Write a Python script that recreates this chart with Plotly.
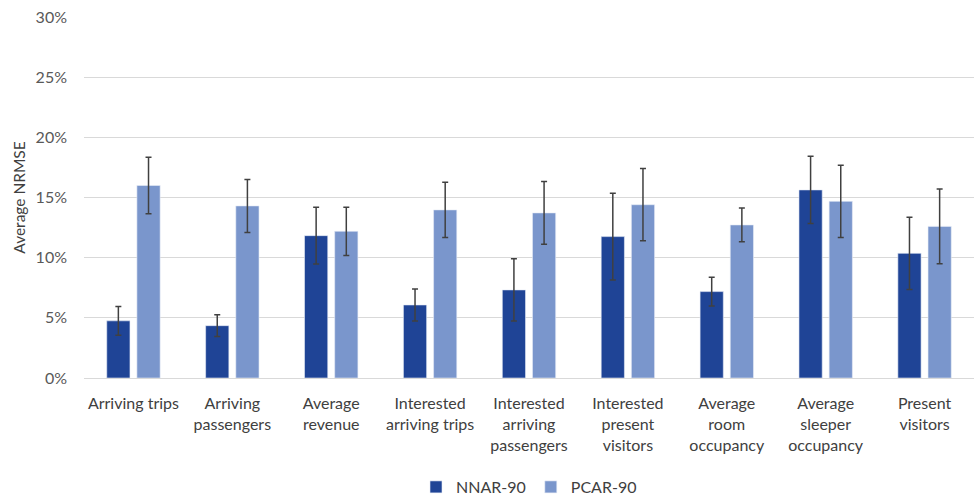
import plotly.graph_objects as go

categories = [
    "Arriving trips",
    "Arriving<br>passengers",
    "Average<br>revenue",
    "Interested<br>arriving trips",
    "Interested<br>arriving<br>passengers",
    "Interested<br>present<br>visitors",
    "Average<br>room<br>occupancy",
    "Average<br>sleeper<br>occupancy",
    "Present<br>visitors",
]

# Average NRMSE (%) and error half-widths (%)
nnar_90 = [4.75, 4.35, 11.83, 6.07, 7.32, 11.75, 7.18, 15.63, 10.36]
nnar_90_err = [1.2, 0.9, 2.35, 1.33, 2.58, 3.6, 1.2, 2.8, 3.0]
pcar_90 = [16.0, 14.3, 12.19, 13.97, 13.72, 14.4, 12.72, 14.68, 12.6]
pcar_90_err = [2.35, 2.2, 2.0, 2.3, 2.6, 3.0, 1.4, 3.0, 3.1]

tick_vals = [0, 5, 10, 15, 20, 25, 30]
tick_text = ["0%", "5%", "10%", "15%", "20%", "25%", "30%"]

err_style = dict(type="data", visible=True, color="#404040", thickness=1.5, width=3)

fig = go.Figure()
fig.add_trace(go.Bar(
    name="NNAR-90", x=categories, y=nnar_90,
    marker=dict(color="#1F4496", line=dict(color="#E8ECF6", width=0.6)),
    error_y=dict(array=nnar_90_err, **err_style),
))
fig.add_trace(go.Bar(
    name="PCAR-90", x=categories, y=pcar_90,
    marker=dict(color="#7A96CC", line=dict(color="#E8ECF6", width=0.6)),
    error_y=dict(array=pcar_90_err, **err_style),
))

font_family = "Lato, Open Sans, sans-serif"
fig.update_layout(
    width=976, height=504,
    margin=dict(l=84, r=2, t=17, b=126, autoexpand=False),
    paper_bgcolor="white", plot_bgcolor="white",
    barmode="group", bargap=0.39, bargroupgap=0.23,
    font=dict(family=font_family, size=16, color="#404040"),
    showlegend=True,
    legend=dict(orientation="h", x=0.5, xanchor="center",
                yref="container", y=-0.008, yanchor="bottom",
                font=dict(size=16, color="#404040"),
                traceorder="normal"),
)
fig.update_xaxes(
    showgrid=False, showline=True, linecolor="#D9D9D9", linewidth=1,
    tickfont=dict(size=16, color="#404040"), ticks="",
    ticklabelstandoff=11, automargin=False,
)
fig.update_yaxes(
    range=[0, 30], tickvals=tick_vals, ticktext=tick_text,
    showgrid=True, gridcolor="#D9D9D9", gridwidth=1,
    zeroline=False, showline=False, automargin=False,
    tickfont=dict(size=16, color="#595959"), ticklabelstandoff=16,
    title=dict(text="Average NRMSE", font=dict(size=15.5, color="#404040"), standoff=6),
)

fig.write_html("out.html")
